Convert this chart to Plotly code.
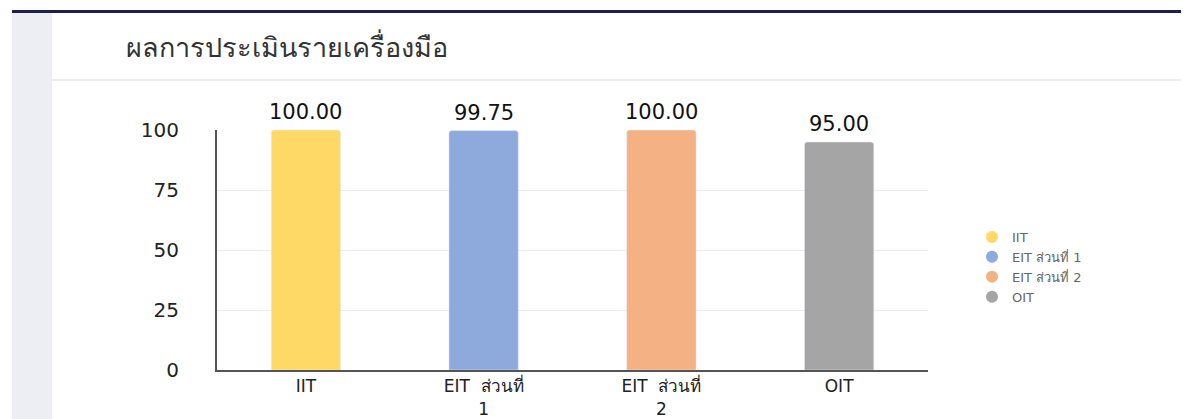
import plotly.graph_objects as go

categories = ["IIT", "EIT ส่วนที่ 1", "EIT ส่วนที่ 2", "OIT"]
tick_labels = ["IIT", "EIT  ส่วนที่<br>1", "EIT  ส่วนที่<br>2", "OIT"]
values = [100.00, 99.75, 100.00, 95.00]
colors = ["#FFD966", "#8EA9DB", "#F4B183", "#A5A5A5"]
title_text = "ผลการประเมินรายเครื่องมือ"

# page has an 8px body margin; figure coordinates = page coordinates - 8
OFF = 8
W, H = 1189 - OFF, 419 - OFF
L, R, T, B = 217 - OFF, 928 - OFF, 130 - OFF, 370 - OFF
pw, ph = R - L, B - T


def px(x):
    return (x - OFF - L) / pw


def py(y):
    return (B - (y - OFF)) / ph


fig = go.Figure()

for c, v, col in zip(categories, values, colors):
    fig.add_trace(go.Bar(
        x=[c], y=[v], name=c, marker=dict(color=col, cornerradius=3),
        width=0.39, showlegend=False, hoverinfo="skip",
    ))

for c, col in zip(categories, colors):
    fig.add_trace(go.Scatter(
        x=[None], y=[None], mode="markers", name=c,
        marker=dict(color=col, size=12, symbol="circle"),
    ))

annotations = [dict(text=title_text, xref="paper", yref="paper", x=px(124), y=py(47),
                    xanchor="left", yanchor="middle", showarrow=False,
                    font=dict(size=27, color="#333", family="Noto Sans"))]
for c, v in zip(categories, values):
    annotations.append(dict(x=c, y=v, xref="x", yref="y", text=f"{v:.2f}",
                            showarrow=False, yanchor="bottom", yshift=4,
                            font=dict(size=21, color="#111", family="DejaVu Sans")))

shapes = [
    dict(type="rect", xref="paper", yref="paper", x0=px(12), x1=px(1189), y0=py(13), y1=py(10),
         fillcolor="#1d1f4f", line=dict(width=0), layer="below"),
    dict(type="rect", xref="paper", yref="paper", x0=px(12), x1=px(52), y0=py(430), y1=py(13),
         fillcolor="#eceef4", line=dict(width=0), layer="below"),
    dict(type="line", xref="paper", yref="paper", x0=px(52), x1=px(1189), y0=py(80), y1=py(80),
         line=dict(color="#eeeeee", width=2), layer="below"),
]

fig.update_layout(
    width=W, height=H,
    margin=dict(l=L, r=W - R, t=T, b=H - B, pad=0, autoexpand=False),
    paper_bgcolor="white", plot_bgcolor="white",
    barmode="overlay",
    showlegend=True,
    legend=dict(x=px(972), y=py(267), xanchor="left", yanchor="middle",
                font=dict(size=13, color="#666", family="DejaVu Sans"),
                itemwidth=30, tracegroupgap=0, bgcolor="rgba(0,0,0,0)"),
    shapes=shapes,
    annotations=annotations,
    xaxis=dict(categoryorder="array", categoryarray=categories,
               tickmode="array", tickvals=categories, ticktext=tick_labels,
               showline=True, linecolor="#555", linewidth=2, ticks="",
               showgrid=False, automargin=False, ticklabelstandoff=0,
               tickfont=dict(size=17, color="#222", family="DejaVu Sans"),
               range=[-0.5, 3.5], fixedrange=True),
    yaxis=dict(range=[0, 100], tickvals=[0, 25, 50, 75, 100],
               showline=True, linecolor="#555", linewidth=2, automargin=False,
               gridcolor="#ececec", zeroline=False, ticks="", ticklabelstandoff=32,
               tickfont=dict(size=20, color="#222", family="DejaVu Sans"), fixedrange=True),
)

fig.write_html("out.html")
